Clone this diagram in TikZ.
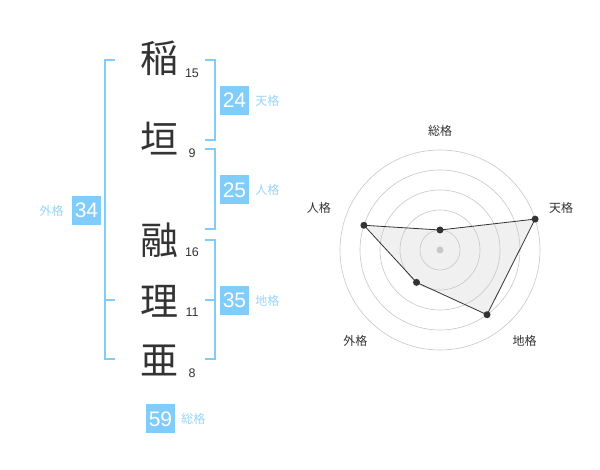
\documentclass[tikz,border=0pt]{standalone}
\usepackage{fontspec}
\setmainfont{Liberation Sans}
\newfontfamily\jpfont{Noto Sans CJK JP}
\usetikzlibrary{calc,positioning}
\definecolor{boxblue}{HTML}{80CCFA}
\definecolor{lblblue}{HTML}{99D5F8}
\definecolor{ink}{HTML}{333333}
\tikzstyle{kanji} = [text=ink, font=\jpfont\fontsize{38}{38}\selectfont, inner sep=0pt]
\tikzstyle{strokes} = [text=ink, font=\fontsize{12.5}{13}\selectfont, inner sep=0pt]
\tikzstyle{score} = [fill=boxblue, text=white, minimum size=29pt, inner sep=0pt,
    font=\fontsize{21}{21}\selectfont]
\tikzstyle{kaku} = [text=lblblue, font=\jpfont\fontsize{12}{12}\selectfont, inner sep=0pt]
\tikzstyle{bracket} = [draw=boxblue, line width=1.6pt]
\tikzstyle{ring} = [draw=black!22, line width=0.6pt]
\tikzstyle{dot} = [circle, fill=ink, inner sep=0pt, minimum size=7pt]
\tikzstyle{axis} = [text=ink, font=\jpfont\fontsize{12}{12}\selectfont, inner sep=0pt]
\tikzstyle{line} = [draw=ink, line width=0.8pt]

\begin{document}
\begin{tikzpicture}[x=1pt, y=1pt]
    \fill[white] (0,0) rectangle (600,470);
    \useasboundingbox (0,0) rectangle (600,470);
    % Place name
    \node [kanji] (k1) at (159,412) {稲};
    \node [kanji] (k2) at (159,331) {垣};
    \node [kanji] (k3) at (159,230) {融};
    \node [kanji] (k4) at (159,169) {理};
    \node [kanji] (k5) at (159,110) {亜};
    \node [strokes] (s1) at (192,397) {15};
    \node [strokes] (s2) at (192,317) {9};
    \node [strokes] (s3) at (192,218) {16};
    \node [strokes] (s4) at (192,158) {11};
    \node [strokes] (s5) at (192,97) {8};
    % Place scores
    \node [score] (ten) at (234.5,369.5) {24};
    \node [kaku, right=6pt of ten] (tenl) {天格};
    \node [score] (jin) at (234.5,280) {25};
    \node [kaku, right=6pt of jin] (jinl) {人格};
    \node [score] (chi) at (234.5,169.5) {35};
    \node [kaku, right=6pt of chi] (chil) {地格};
    \node [score] (gai) at (86.5,259.5) {34};
    \node [kaku, left=8pt of gai] (gail) {外格};
    \node [score] (sou) at (160.5,51) {59};
    \node [kaku, right=6pt of sou] (soul) {総格};
    % Draw brackets
    \coordinate (ta) at (205,410);
    \coordinate (tb) at (205,330);
    \coordinate (ja) at (205,321);
    \coordinate (jb) at (205,241);
    \coordinate (ca) at (205,230);
    \coordinate (cm) at (205,170);
    \coordinate (cb) at (205,111);
    \coordinate (ga) at (115,410);
    \coordinate (gm) at (115,170);
    \coordinate (gb) at (115,111);
    \path [bracket] (ta) -- ++(10,0) |- (tb);
    \path [bracket] (ja) -- ++(10,0) |- (jb);
    \path [bracket] (ca) -- ++(10,0) |- (cb);
    \path [bracket] (cm) -- ++(10,0);
    \path [bracket] (ga) -- ++(-10,0) |- (gb);
    \path [bracket] (gm) -- ++(-10,0);
    % Radar chart
    \coordinate (c) at (440,220);
    \coordinate (p1) at ($(c)+(90:20pt)$);
    \coordinate (p2) at ($(c)+(18:100pt)$);
    \coordinate (p3) at ($(c)+(-54:80pt)$);
    \coordinate (p4) at ($(c)+(-126:40pt)$);
    \coordinate (p5) at ($(c)+(162:80pt)$);
    \fill [black!6] (p1) -- (p2) -- (p3) -- (p4) -- (p5) -- cycle;
    \foreach \r in {20,40,60,80,100}
        \draw [ring] (c) circle (\r pt);
    \fill [black!22] (c) circle (3.5pt);
    \path [line] (p1) -- (p2) -- (p3) -- (p4) -- (p5) -- cycle;
    \foreach \i in {1,...,5}
        \node [dot] (d\i) at (p\i) {};
    \node [axis] (a1) at ($(c)+(90:119pt)$) {総格};
    \node [axis] (a2) at ($(c)+(19:128pt)$) {天格};
    \node [axis] (a3) at ($(c)+(-47:124pt)$) {地格};
    \node [axis] (a4) at ($(c)+(-133:124pt)$) {外格};
    \node [axis] (a5) at ($(c)+(161:128pt)$) {人格};
\end{tikzpicture}
\end{document}
